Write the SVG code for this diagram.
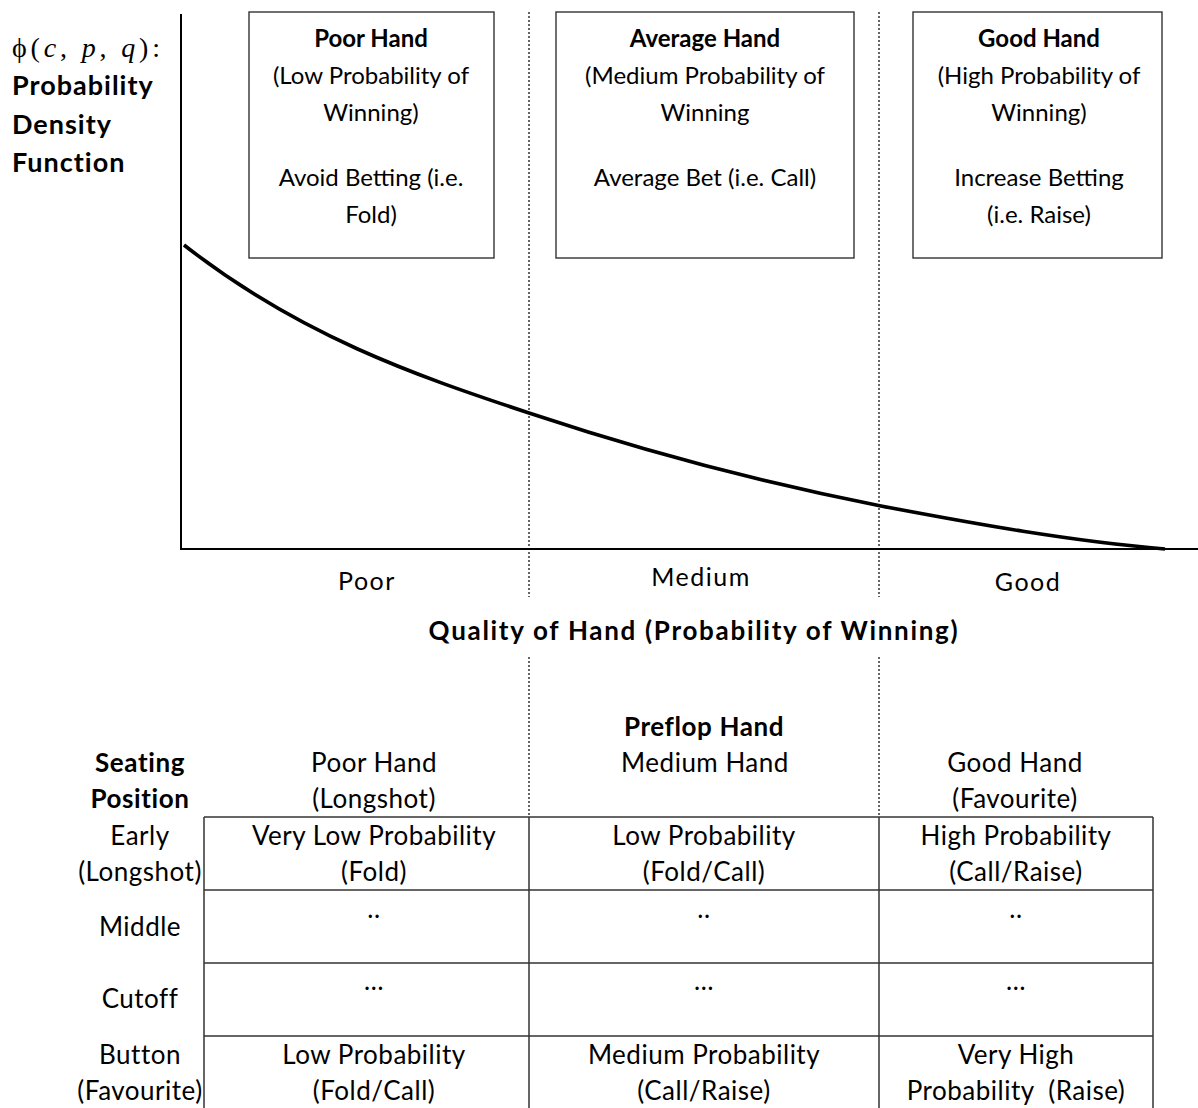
<svg xmlns="http://www.w3.org/2000/svg" width="1198" height="1108" viewBox="0 0 1198 1108">
<style>
text{font-family:Lato,"Liberation Sans",sans-serif;font-size:24px;fill:#000;text-anchor:middle}
.b{font-weight:bold}
.lab{font-size:27px;font-weight:bold;letter-spacing:1px;text-anchor:start}
.ax{font-size:25px;letter-spacing:1.5px}
.title{font-size:26px;font-weight:bold;letter-spacing:1.7px}
.t{font-size:26px;letter-spacing:0.5px}
.tb{font-size:26px;font-weight:bold;letter-spacing:0.6px}
.math{font-family:"Liberation Serif","DejaVu Serif",serif;font-size:28px;text-anchor:start}
.box{fill:#fff;stroke:#333;stroke-width:1.4}
.dot{stroke:#333;stroke-width:1.5;stroke-dasharray:2 2;fill:none}
.axis{stroke:#000;stroke-width:2;fill:none}
.grid{stroke:#333;stroke-width:1.5;fill:none}
.curve{stroke:#000;stroke-width:3.6;fill:none}
</style>
<rect width="1198" height="1108" fill="#fff"/>
<g id="connectors">
<line class="dot" x1="529" y1="12" x2="529" y2="597"/>
<line class="dot" x1="879" y1="12" x2="879" y2="597"/>
<line class="dot" x1="529" y1="657" x2="529" y2="817"/>
<line class="dot" x1="879" y1="657" x2="879" y2="817"/>
<line class="axis" x1="181" y1="14" x2="181" y2="550"/>
<line class="axis" x1="180" y1="549" x2="1198" y2="549"/>
<path class="curve" d="M184,245 C299,335 414,375 529,413 C646,452 764,483 881,506 C976,524 1070,541 1165,549"/>
</g>
<g id="y-label">
<text class="math" x="12" y="57" textLength="148" lengthAdjust="spacing">ϕ(<tspan font-style="italic">c</tspan>, <tspan font-style="italic">p</tspan>, <tspan font-style="italic">q</tspan>):</text>
<text class="lab" x="12" y="95">Probability</text>
<text class="lab" x="12" y="134">Density</text>
<text class="lab" x="12" y="172">Function</text>
</g>
<g id="poor-hand-box">
<rect class="box" x="249" y="12" width="245" height="246"/>
<text class="b" x="371" y="47">Poor Hand</text>
<text x="371" y="84">(Low Probability of</text>
<text x="371" y="121">Winning)</text>
<text x="371" y="186">Avoid Betting (i.e.</text>
<text x="371" y="223">Fold)</text>
</g>
<g id="average-hand-box">
<rect class="box" x="556" y="12" width="298" height="246"/>
<text class="b" x="705" y="47">Average Hand</text>
<text x="705" y="84">(Medium Probability of</text>
<text x="705" y="121">Winning</text>
<text x="705" y="186">Average Bet (i.e. Call)</text>
</g>
<g id="good-hand-box">
<rect class="box" x="913" y="12" width="249" height="246"/>
<text class="b" x="1039" y="47">Good Hand</text>
<text x="1039" y="84">(High Probability of</text>
<text x="1039" y="121">Winning)</text>
<text x="1039" y="186">Increase Betting</text>
<text x="1039" y="223">(i.e. Raise)</text>
</g>
<g id="x-axis-labels">
<text class="ax" x="367" y="590">Poor</text>
<text class="ax" x="701" y="586">Medium</text>
<text class="ax" x="1028" y="591">Good</text>
<text class="title" x="694" y="640">Quality of Hand (Probability of Winning)</text>
</g>
<g id="table">
<line class="grid" x1="204" y1="817" x2="1153" y2="817"/>
<line class="grid" x1="204" y1="890" x2="1153" y2="890"/>
<line class="grid" x1="204" y1="963" x2="1153" y2="963"/>
<line class="grid" x1="204" y1="1036" x2="1153" y2="1036"/>
<line class="grid" x1="204" y1="817" x2="204" y2="1108"/>
<line class="grid" x1="529" y1="817" x2="529" y2="1108"/>
<line class="grid" x1="879" y1="817" x2="879" y2="1108"/>
<line class="grid" x1="1153" y1="817" x2="1153" y2="1108"/>
</g>
<g id="table-headers">
<text class="tb" x="704" y="736">Preflop Hand</text>
<text class="tb" x="140" y="772">Seating</text>
<text class="tb" x="140" y="808">Position</text>
<text class="t" x="374" y="772">Poor Hand</text>
<text class="t" x="374" y="808">(Longshot)</text>
<text class="t" x="705" y="772">Medium Hand</text>
<text class="t" x="1015" y="772">Good Hand</text>
<text class="t" x="1015" y="808">(Favourite)</text>
</g>
<g id="row-labels">
<text class="t" x="140" y="845">Early</text>
<text class="t" x="140" y="881">(Longshot)</text>
<text class="t" x="140" y="936">Middle</text>
<text class="t" x="140" y="1008">Cutoff</text>
<text class="t" x="140" y="1064">Button</text>
<text class="t" x="140" y="1100">(Favourite)</text>
</g>
<g id="cells">
<text class="t" x="374" y="845">Very Low Probability</text>
<text class="t" x="374" y="881">(Fold)</text>
<text class="t" x="704" y="845">Low Probability</text>
<text class="t" x="704" y="881">(Fold/Call)</text>
<text class="t" x="1016" y="845">High Probability</text>
<text class="t" x="1016" y="881">(Call/Raise)</text>
<text class="t" x="374" y="918">..</text>
<text class="t" x="704" y="918">..</text>
<text class="t" x="1016" y="918">..</text>
<text class="t" x="374" y="990">…</text>
<text class="t" x="704" y="990">…</text>
<text class="t" x="1016" y="990">…</text>
<text class="t" x="374" y="1064">Low Probability</text>
<text class="t" x="374" y="1100">(Fold/Call)</text>
<text class="t" x="704" y="1064">Medium Probability</text>
<text class="t" x="704" y="1100">(Call/Raise)</text>
<text class="t" x="1016" y="1064">Very High</text>
<text class="t" x="1016" y="1100">Probability&#160; (Raise)</text>
</g>
</svg>
